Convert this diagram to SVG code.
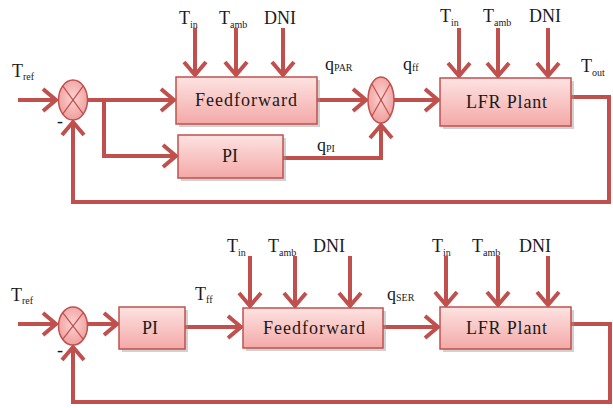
<svg xmlns="http://www.w3.org/2000/svg" width="613" height="408" viewBox="0 0 613 408" font-family="Liberation Serif, serif">
  <style>
    .wire { fill: none; stroke: #c0504d; stroke-width: 4; stroke-linejoin: miter; }
    .arrow { marker-end: url(#chev); }
    .box { fill: url(#boxGrad); stroke: #c0504d; stroke-width: 1.5; }
    .shadow { fill: #9a9a9a; opacity: 0.45; }
    .sum { fill: url(#sumGrad); stroke: #c0504d; stroke-width: 1.5; }
    .cross { stroke: #c0504d; stroke-width: 1.2; }
    .lbl { font-size: 18px; fill: #1a1a1a; }
    .sub { font-size: 10px; }
  </style>
  <defs>
    <linearGradient id="boxGrad" x1="0" y1="0" x2="0" y2="1">
      <stop offset="0" stop-color="#fde3e2"/>
      <stop offset="1" stop-color="#f3a9a7"/>
    </linearGradient>
    <radialGradient id="sumGrad" cx="0.5" cy="0.45" r="0.6">
      <stop offset="0" stop-color="#fbd3d2"/>
      <stop offset="1" stop-color="#ee9b99"/>
    </radialGradient>
    <marker id="chev" markerUnits="userSpaceOnUse" markerWidth="30" markerHeight="30" refX="2" refY="15" orient="auto" overflow="visible">
      <path d="M-11,4 L2,15 L-11,26" fill="none" stroke="#c0504d" stroke-width="4" stroke-linejoin="miter"/>
    </marker>
  </defs>

  <!-- ===== Parallel scheme ===== -->
  <g id="connectors-top">
    <path class="wire arrow" d="M18,100 L56,100"/>
    <path class="wire arrow" d="M87,100 L174,100"/>
    <path class="wire arrow" d="M104,100 L104,156 L176,156"/>
    <path class="wire arrow" d="M195,28 L195,75"/>
    <path class="wire arrow" d="M236,28 L236,75"/>
    <path class="wire arrow" d="M283,28 L283,75"/>
    <path class="wire arrow" d="M317,100 L366,100"/>
    <path class="wire arrow" d="M283,158 L381,158 L381,125"/>
    <path class="wire arrow" d="M394,100 L438,100"/>
    <path class="wire arrow" d="M459,28 L459,76"/>
    <path class="wire arrow" d="M498,28 L498,76"/>
    <path class="wire arrow" d="M548,28 L548,76"/>
    <path class="wire arrow" d="M571,97 L609,97 L609,202 L73,202 L73,122"/>
  </g>

  <g id="sum1">
    <ellipse class="sum" cx="73" cy="100" rx="14.5" ry="20"/>
    <line class="cross" x1="62.7" y1="85.9" x2="83.3" y2="114.1"/>
    <line class="cross" x1="83.3" y1="85.9" x2="62.7" y2="114.1"/>
  </g>
  <g id="feedforward1">
    <rect class="shadow" x="179" y="80" width="141" height="47"/>
    <rect class="box" x="176" y="77" width="141" height="47"/>
    <text class="lbl" x="195" y="106" textLength="102" lengthAdjust="spacing">Feedforward</text>
  </g>
  <g id="pi1">
    <rect class="shadow" x="181" y="138" width="105" height="43"/>
    <rect class="box" x="178" y="135" width="105" height="43"/>
    <text class="lbl" x="222" y="162">PI</text>
  </g>
  <g id="sum2">
    <ellipse class="sum" cx="381" cy="100" rx="13" ry="23"/>
    <line class="cross" x1="371.8" y1="83.7" x2="390.2" y2="116.3"/>
    <line class="cross" x1="390.2" y1="83.7" x2="371.8" y2="116.3"/>
  </g>
  <g id="plant1">
    <rect class="shadow" x="443" y="81" width="131" height="48"/>
    <rect class="box" x="440" y="78" width="131" height="48"/>
    <text class="lbl" x="466" y="108" textLength="81" lengthAdjust="spacing">LFR Plant</text>
  </g>

  <g id="labels-top">
    <text class="lbl" x="12" y="77">T<tspan class="sub" dy="3">ref</tspan></text>
    <text class="lbl" x="57" y="127">-</text>
    <text class="lbl" x="179" y="24">T<tspan class="sub" dy="4">in</tspan></text>
    <text class="lbl" x="219" y="24">T<tspan class="sub" dy="4">amb</tspan></text>
    <text class="lbl" x="264" y="24">DNI</text>
    <text class="lbl" x="325" y="70">q<tspan class="sub" dy="1">PAR</tspan></text>
    <text class="lbl" x="403" y="70">q<tspan class="sub" dy="1">ff</tspan></text>
    <text class="lbl" x="317" y="151">q<tspan class="sub" dy="1">PI</tspan></text>
    <text class="lbl" x="440" y="22">T<tspan class="sub" dy="4">in</tspan></text>
    <text class="lbl" x="483" y="22">T<tspan class="sub" dy="4">amb</tspan></text>
    <text class="lbl" x="529" y="22">DNI</text>
    <text class="lbl" x="581" y="72">T<tspan class="sub" dy="4">out</tspan></text>
  </g>

  <!-- ===== Series scheme ===== -->
  <g id="connectors-bottom">
    <path class="wire arrow" d="M18,324 L56,324"/>
    <path class="wire arrow" d="M87,324 L117,324"/>
    <path class="wire arrow" d="M185,327 L241,327"/>
    <path class="wire arrow" d="M250,256 L250,306"/>
    <path class="wire arrow" d="M295,256 L295,306"/>
    <path class="wire arrow" d="M350,256 L350,306"/>
    <path class="wire arrow" d="M383,327 L438,327"/>
    <path class="wire arrow" d="M446,256 L446,305"/>
    <path class="wire arrow" d="M498,256 L498,305"/>
    <path class="wire arrow" d="M548,256 L548,305"/>
    <path class="wire arrow" d="M571,324 L610,324 L610,402 L73,402 L73,347"/>
  </g>

  <g id="sum3">
    <ellipse class="sum" cx="73" cy="326" rx="14.5" ry="19"/>
    <line class="cross" x1="62.7" y1="312.6" x2="83.3" y2="339.4"/>
    <line class="cross" x1="83.3" y1="312.6" x2="62.7" y2="339.4"/>
  </g>
  <g id="pi2">
    <rect class="shadow" x="122" y="310" width="66" height="42"/>
    <rect class="box" x="119" y="307" width="66" height="42"/>
    <text class="lbl" x="142" y="334">PI</text>
  </g>
  <g id="feedforward2">
    <rect class="shadow" x="246" y="311" width="140" height="40"/>
    <rect class="box" x="243" y="308" width="140" height="40"/>
    <text class="lbl" x="263" y="334" textLength="102" lengthAdjust="spacing">Feedforward</text>
  </g>
  <g id="plant2">
    <rect class="shadow" x="443" y="310" width="131" height="42"/>
    <rect class="box" x="440" y="307" width="131" height="42"/>
    <text class="lbl" x="466" y="334" textLength="81" lengthAdjust="spacing">LFR Plant</text>
  </g>

  <g id="labels-bottom">
    <text class="lbl" x="11" y="301">T<tspan class="sub" dy="3">ref</tspan></text>
    <text class="lbl" x="57" y="356">-</text>
    <text class="lbl" x="195" y="300">T<tspan class="sub" dy="3">ff</tspan></text>
    <text class="lbl" x="227" y="252">T<tspan class="sub" dy="4">in</tspan></text>
    <text class="lbl" x="268" y="252">T<tspan class="sub" dy="4">amb</tspan></text>
    <text class="lbl" x="313" y="252">DNI</text>
    <text class="lbl" x="387" y="300">q<tspan class="sub" dy="1">SER</tspan></text>
    <text class="lbl" x="432" y="252">T<tspan class="sub" dy="4">in</tspan></text>
    <text class="lbl" x="472" y="252">T<tspan class="sub" dy="4">amb</tspan></text>
    <text class="lbl" x="519" y="252">DNI</text>
  </g>
</svg>
